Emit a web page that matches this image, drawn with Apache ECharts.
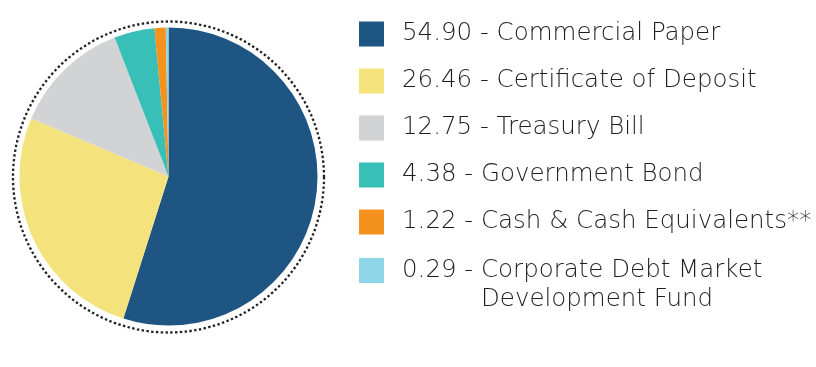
<!DOCTYPE html>
<html><head><meta charset="utf-8">
<script src="https://cdn.jsdelivr.net/npm/echarts@6/dist/echarts.min.js"></script>
<style>html,body{margin:0;padding:0;background:#fff}#c{width:816px;height:367px}</style>
</head><body><div id="c"></div>
<script>
const categories = ['Commercial Paper','Certificate of Deposit','Treasury Bill','Government Bond','Cash & Cash Equivalents**','Corporate Debt Market Development Fund'];
const values = [54.90, 26.46, 12.75, 4.38, 1.22, 0.29];
const valueLabels = ['54.90','26.46','12.75','4.38','1.22','0.29'];
const colors = ['#1f5582','#f4e37c','#d2d3d5','#38c0b8','#f5921e','#8fd6e8'];

const chart = echarts.init(document.getElementById('c'), null, {renderer:'canvas'});
const labelOf = {};
categories.forEach((c,i)=>{ labelOf[c] = valueLabels[i]; });
const fontFamily = 'DejaVu Sans';
const fontSize = 24.5;
const fontWeight = 200;
const textColor = '#1e1e1e';
const ctx = document.createElement('canvas').getContext('2d');
ctx.font = fontWeight + ' ' + fontSize + 'px "' + fontFamily + '"';
const prefixW = Math.round(ctx.measureText('0.29 - ').width);
const L = 29;

chart.setOption({
  animation: false,
  color: colors,
  graphic: [{
    type: 'circle', silent: true,
    shape: {cx: 168.5, cy: 177, r: 155.5},
    style: {fill: 'none', stroke: '#222', lineWidth: 2.3, lineDash: [2.4, 2.4]}
  }],
  legend: [{
    orient: 'vertical', left: 359, top: 21.5, padding: 0,
    itemWidth: 25, itemHeight: 25, itemGap: 22,
    icon: 'rect',
    data: categories.slice(0,5),
    formatter: n => labelOf[n] + ' - ' + n,
    textStyle: {fontFamily, fontSize, fontWeight, color: textColor, lineHeight: 25, padding:[0,0,0,13]}
  },{
    orient: 'vertical', left: 359, top: 258 + 12.5 - 1.5 * L, padding: 0,
    itemWidth: 25, itemHeight: 25,
    icon: 'rect',
    data: categories.slice(5),
    formatter: n => labelOf[n] + ' - Corporate Debt Market\n{p|}Development Fund',
    textStyle: {fontFamily, fontSize, fontWeight, color: textColor, lineHeight: L, padding:[L,0,0,13],
      rich: {p: {width: prefixW, fontFamily, fontSize, fontWeight, color: textColor, lineHeight: L}}}
  }],
  series: [{
    type: 'pie',
    center: [168.5, 176.5], radius: 149,
    startAngle: 90, clockwise: true,
    label: {show: false}, labelLine: {show: false},
    itemStyle: {borderWidth: 0},
    data: categories.map((c,i)=>({name: c, value: values[i]}))
  }]
});
</script></body></html>
